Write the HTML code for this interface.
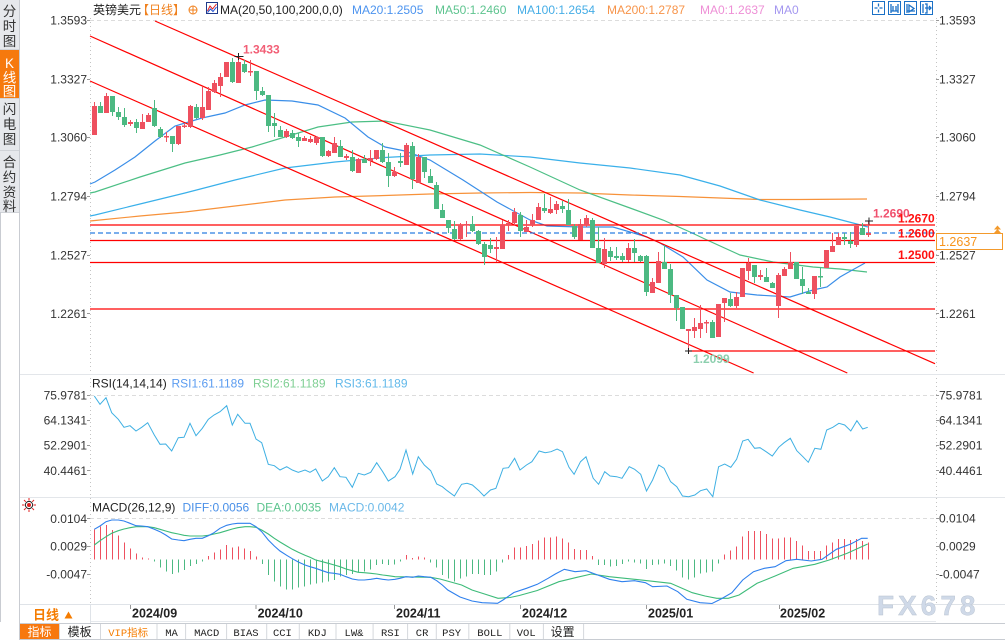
<!DOCTYPE html>
<html><head><meta charset="utf-8">
<style>
html,body{margin:0;padding:0;background:#fff;}
body{width:1005px;height:640px;overflow:hidden;position:relative;}
svg{position:absolute;left:0;top:0;}
text{font-family:"Liberation Sans","Noto Sans CJK SC",sans-serif;}
.ax{font-size:12px;fill:#333;}
.mono{font-family:"Liberation Mono","Noto Sans CJK SC",monospace;font-size:10.5px;fill:#222;}
</style></head><body>
<svg width="1005" height="640" viewBox="0 0 1005 640" xmlns="http://www.w3.org/2000/svg">
<rect x="0" y="0" width="1005" height="640" fill="#fff"/>
<!-- sidebar -->
<rect x="0" y="0" width="19" height="212" fill="#e6e8ec"/>
<rect x="0" y="50" width="19" height="48" fill="#f6790d"/>
<g stroke="#d0d3d8" stroke-width="1">
<line x1="0" y1="49.5" x2="19" y2="49.5"/><line x1="0" y1="98.5" x2="19" y2="98.5"/><line x1="0" y1="150.5" x2="19" y2="150.5"/><line x1="0" y1="212.5" x2="19" y2="212.5"/>
</g>
<line x1="0.5" y1="212" x2="0.5" y2="622" stroke="#c9ccd2"/>
<line x1="19.5" y1="0" x2="19.5" y2="640" stroke="#c9ccd2"/>
<g font-size="13.5" text-anchor="middle" fill="#333">
<text x="9.5" y="16">分</text><text x="9.5" y="31">时</text><text x="9.5" y="46">图</text>
<text x="9.5" y="68" fill="#fff">K</text><text x="9.5" y="82.5" fill="#fff">线</text><text x="9.5" y="96" fill="#fff">图</text>
<text x="9.5" y="114">闪</text><text x="9.5" y="129">电</text><text x="9.5" y="144">图</text>
<text x="9.5" y="167">合</text><text x="9.5" y="182">约</text><text x="9.5" y="197">资</text><text x="9.5" y="211">料</text>
</g>

<!-- header -->
<text x="93" y="14" font-size="12" fill="#222">英镑美元</text>
<text x="137" y="14" font-size="12" fill="#f0811e">【日线】</text>
<circle cx="193" cy="10" r="4" fill="none" stroke="#f0811e"/>
<line x1="189" y1="10" x2="197" y2="10" stroke="#f0811e"/><line x1="193" y1="6" x2="193" y2="14" stroke="#f0811e"/>
<rect x="206.5" y="2.5" width="11" height="11" fill="#fff" stroke="#1f3a8a"/>
<polyline points="207.5,11 210,6 212.5,9 216.5,4" fill="none" stroke="#e02020"/>
<polyline points="207.5,12.5 210.5,9 213,11.5 216.5,7" fill="none" stroke="#2050d0"/>
<text x="220" y="14" font-size="12" fill="#222">MA(20,50,100,200,0,0)</text>
<text x="352" y="14" font-size="12" fill="#4d94ef">MA20:1.2505</text>
<text x="435" y="14" font-size="12" fill="#5ec48f">MA50:1.2460</text>
<text x="517" y="14" font-size="12" fill="#45ade6">MA100:1.2654</text>
<text x="607" y="14" font-size="12" fill="#f7944a">MA200:1.2787</text>
<text x="700" y="14" font-size="12" fill="#ee8fd6">MA0:1.2637</text>
<text x="774" y="14" font-size="12" fill="#a497f0">MA0</text>
<g fill="#fff" stroke="#1a70c6" stroke-width="1">
<rect x="872.5" y="1.5" width="12" height="13"/><rect x="888.5" y="1.5" width="12" height="13"/><rect x="904.5" y="1.5" width="12" height="13"/><rect x="920.5" y="1.5" width="12" height="13"/>
</g>
<g stroke="#1a70c6" stroke-width="1.3" fill="none">
<path d="M878.5 3.5v3M878.5 9.5v3M874.5 8h3M879.5 8h3"/>
<path d="M891 4v9M898 4v9M891 11h7M893 6v5M896 6v5"/>
<path d="M907 4v9M907 11h8M909 5l5 3.5l-5 3.5z"/>
<path d="M923 4v9M925 8h6M929 6l2 2l-2 2M925 4h2v9h-2"/>
</g>

<!-- grids & axes -->
<g stroke="#dcdcdc" stroke-dasharray="4,3">
<line x1="90" y1="20.5" x2="936" y2="20.5"/>
<line x1="90" y1="395.5" x2="936" y2="395.5"/>
<line x1="90" y1="518.5" x2="936" y2="518.5"/>
</g>
<g stroke="#c4c4c4" stroke-dasharray="1,3">
<line x1="90.5" y1="18" x2="90.5" y2="604"/>
<line x1="936.5" y1="18" x2="936.5" y2="604"/>
</g>
<g stroke="#999">
<path d="M87 20.5h3M87 79.5h3M87 137.5h3M87 196.5h3M87 255.5h3M87 313.5h3M87 395.5h3M87 420.5h3M87 445.5h3M87 470.5h3M87 518.5h3M87 546.5h3M87 574.5h3"/>
<path d="M936 20.5h3M936 79.5h3M936 137.5h3M936 196.5h3M936 255.5h3M936 313.5h3M936 395.5h3M936 420.5h3M936 445.5h3M936 470.5h3M936 518.5h3M936 546.5h3M936 574.5h3"/>
</g>
<line x1="20" y1="374.5" x2="1005" y2="374.5" stroke="#e3e6ea"/>
<line x1="20" y1="497.5" x2="1005" y2="497.5" stroke="#e3e6ea"/>

<!-- axis labels -->
<g class="ax" text-anchor="end">
<text x="87" y="24.5">1.3593</text><text x="87" y="83.3">1.3327</text><text x="87" y="141.5">1.3060</text><text x="87" y="200.5">1.2794</text><text x="87" y="259.3">1.2527</text><text x="87" y="318">1.2261</text>
<text x="87" y="399.3">75.9781</text><text x="87" y="424.3">64.1341</text><text x="87" y="449.5">52.2901</text><text x="87" y="474.8">40.4461</text>
<text x="87" y="522.8">0.0104</text><text x="87" y="550.5">0.0029</text><text x="87" y="578.3">-0.0047</text>
</g>
<g class="ax">
<text x="939" y="24.5">1.3593</text><text x="939" y="83.3">1.3327</text><text x="939" y="141.5">1.3060</text><text x="939" y="200.5">1.2794</text><text x="939" y="259.3">1.2527</text><text x="939" y="318">1.2261</text>
<text x="939" y="399.3">75.9781</text><text x="939" y="424.3">64.1341</text><text x="939" y="449.5">52.2901</text><text x="939" y="474.8">40.4461</text>
<text x="939" y="522.5">0.0104</text><text x="939" y="550.7">0.0029</text><text x="939" y="578.3">-0.0047</text>
</g>

<!-- moving averages -->
<g fill="none" stroke-width="1.2">
<polyline stroke="#f7923a" points="90,221 95,220.5 140,216 185,212 235,206 285,200 335,197 385,195.5 430,194 480,193 530,192.5 580,193 630,195 680,196.5 720,198 760,199.5 800,199.5 867,199"/>
<polyline stroke="#3ab0ea" points="90,216 95,215 140,204 185,193 235,180 285,168 335,162 385,157.5 430,155 480,154 530,157 580,163 630,168 680,175 720,186 760,200 800,210 830,217 853,223 868,227"/>
<polyline stroke="#4cbf85" points="90,193 95,192 140,177 185,163 220,155 252,147 285,137 318,127 352,122 385,121 430,130 480,145 530,167 580,190 630,208 663,220 690,232 707,240 740,255 773,262 813,267 840,269 867,272"/>
<polyline stroke="#3a8ee8" points="90,184 95,182 115,170 135,157 155,141 175,126 202,118 225,113 245,105 265,100 292,101 318,105 345,118 368,137 385,147 405,151 430,160 463,180 497,202 530,220 547,226 580,227 613,227 647,237 660,243 683,257 707,280 730,292 757,295 790,297 813,290 827,287 840,277 847,273 865,263"/>
</g>

<!-- level lines -->
<g stroke="#ff0000" stroke-width="1.2">
<line x1="90" y1="225" x2="935" y2="225"/>
<line x1="90" y1="240.5" x2="935" y2="240.5"/>
<line x1="90" y1="262.5" x2="935" y2="262.5"/>
<line x1="90" y1="309" x2="935" y2="309"/>
<line x1="688" y1="351" x2="935" y2="351"/>
<line x1="155" y1="21" x2="935" y2="363.7"/>
<line x1="90" y1="36" x2="847.3" y2="373"/>
<line x1="90" y1="81" x2="753.6" y2="373"/>
</g>
<line x1="90" y1="233" x2="935" y2="233" stroke="#2a7de1" stroke-width="1.2" stroke-dasharray="5,3"/>

<!-- candles -->
<g shape-rendering="crispEdges">
<path fill="none" stroke="#ee505f" stroke-width="1" d="M94.5 102V135M106.5 93V113M130.5 120V126M142.5 114V129M148.5 113V122M166.5 132V142M178.5 126V145M184.5 124V128M190.5 105V128M202.5 87V120M208.5 87V110M214.5 80V93M220.5 73V97M226.5 62V77M238.5 56V83M250.5 60V76M286.5 129V138M304.5 136V141M310.5 136V143M316.5 136V145M328.5 150V157M334.5 137V153M346.5 154V160M358.5 158V173M370.5 150V166M376.5 150V160M394.5 167V177M406.5 143V165M418.5 154V183M460.5 223V240M466.5 221V237M496.5 237V262M502.5 220V249M508.5 220V231M514.5 208V225M526.5 220V232M532.5 214V227M538.5 203V220M550.5 197V214M556.5 201V214M580.5 219V240M586.5 215V227M604.5 238V268M628.5 243V262M652.5 278V293M658.5 252V283M688.5 329V350M694.5 318V338M700.5 305V338M706.5 320V333M718.5 304V337M724.5 298V322M736.5 292V308M742.5 268V297M748.5 258V280M760.5 270V280M778.5 273V318M784.5 267V276M790.5 252V269M814.5 276V299M826.5 250V268M832.5 233V252M838.5 233V245M856.5 226V247M868.5 221V237"/>
<path fill="#ee505f" d="M92 106h5v29h-5zM104 96h5v17h-5zM128 122h5v2h-5zM140 122h5v7h-5zM146 115h5v7h-5zM164 136h5v1.5h-5zM176 126h5v18h-5zM182 125.5h5v1.5h-5zM188 106h5v21h-5zM200 107h5v11h-5zM206 91h5v19h-5zM212 83h5v9h-5zM218 77h5v9h-5zM224 62h5v15h-5zM236 62h5v21h-5zM248 71h5v1.5h-5zM284 131h5v6h-5zM302 138h5v3h-5zM308 139h5v3h-5zM314 137h5v6h-5zM326 151h5v5h-5zM332 143h5v10h-5zM344 156h5v2h-5zM356 159h5v14h-5zM368 158h5v3h-5zM374 150h5v9h-5zM392 172h5v4h-5zM404 145h5v20h-5zM416 157h5v26h-5zM458 225h5v14h-5zM464 224h5v1.5h-5zM494 247h5v2h-5zM500 225h5v24h-5zM506 223h5v2h-5zM512 212h5v11h-5zM524 227h5v5h-5zM530 220h5v5h-5zM536 207h5v13h-5zM548 209h5v4h-5zM554 204h5v6h-5zM578 224h5v16h-5zM584 218h5v7h-5zM602 249h5v15h-5zM626 248h5v12h-5zM650 282h5v11h-5zM656 261h5v22h-5zM686 329h5v2h-5zM692 327h5v4h-5zM698 323h5v6h-5zM704 322h5v1.5h-5zM716 304h5v33h-5zM722 298h5v5h-5zM734 297h5v9h-5zM740 268h5v29h-5zM746 263h5v8h-5zM758 275h5v2h-5zM776 275h5v31h-5zM782 269h5v7h-5zM788 262h5v7h-5zM812 276h5v18h-5zM824 250h5v18h-5zM830 246h5v6h-5zM836 237h5v8h-5zM854 226h5v19h-5zM866 233h5v2h-5z"/>
<path fill="none" stroke="#4cb982" stroke-width="1" d="M100.5 102V113M112.5 96V116M118.5 107V120M124.5 108V127M136.5 119V133M154.5 100V127M160.5 127V138M172.5 136V152M196.5 104V119M232.5 58V83M244.5 60V73M256.5 71V100M262.5 87V96M268.5 95V132M274.5 113V137M280.5 126V137M292.5 130V139M298.5 133V147M322.5 137V157M340.5 140V157M352.5 150V172M364.5 155V163M382.5 143V163M388.5 153V187M400.5 153V167M412.5 142V189M424.5 157V178M430.5 169V183M436.5 182V209M442.5 204V218M448.5 220V233M454.5 221V240M472.5 216V232M478.5 230V245M484.5 242V265M490.5 238V253M520.5 212V237M544.5 194V213M562.5 201V213M568.5 199V225M574.5 224V239M592.5 218V248M598.5 227V263M610.5 247V261M616.5 247V260M622.5 253V262M634.5 239V262M640.5 255V262M646.5 255V296M664.5 245V269M670.5 264V303M676.5 295V321M682.5 307V329M712.5 320V338M730.5 293V307M754.5 265V283M766.5 268V282M772.5 282V288M796.5 262V279M802.5 267V294M808.5 288V294M820.5 267V287M844.5 233V245M850.5 232V248M862.5 223V235"/>
<path fill="#4cb982" d="M98 106h5v7h-5zM110 96h5v16h-5zM116 112h5v5h-5zM122 117h5v8h-5zM134 122h5v6h-5zM152 108h5v18h-5zM158 129h5v8h-5zM170 136h5v8h-5zM194 107h5v11h-5zM230 62h5v20h-5zM242 64h5v8h-5zM254 71h5v20h-5zM260 91h5v4h-5zM266 95h5v31h-5zM272 123h5v3h-5zM278 130h5v7h-5zM290 133h5v5h-5zM296 137h5v4h-5zM320 137h5v19h-5zM338 146h5v11h-5zM350 157h5v14h-5zM362 159h5v4h-5zM380 150h5v12h-5zM386 162h5v14h-5zM398 161h5v2h-5zM410 146h5v33h-5zM422 157h5v15h-5zM428 176h5v7h-5zM434 185h5v24h-5zM440 210h5v8h-5zM446 220h5v8h-5zM452 229h5v10h-5zM470 224h5v7h-5zM476 231h5v13h-5zM482 244h5v13h-5zM488 245h5v4h-5zM518 215h5v16h-5zM542 208h5v3h-5zM560 206h5v3h-5zM566 210h5v15h-5zM572 226h5v11h-5zM590 220h5v28h-5zM596 248h5v15h-5zM608 251h5v6h-5zM614 256h5v2h-5zM620 256h5v4h-5zM632 248h5v5h-5zM638 256h5v5h-5zM644 256h5v36h-5zM662 262h5v7h-5zM668 269h5v26h-5zM674 295h5v13h-5zM680 307h5v22h-5zM710 322h5v16h-5zM728 299h5v7h-5zM752 265h5v12h-5zM764 277h5v5h-5zM770 283h5v5h-5zM794 262h5v17h-5zM800 279h5v7h-5zM806 292h5v2h-5zM818 276h5v1.5h-5zM842 237h5v2h-5zM848 241h5v3h-5zM860 228h5v7h-5z"/>
</g>

<!-- crosshair markers -->
<g stroke="#222" stroke-width="1">
<path d="M234.5 56.5h9M238.5 53v7"/>
<path d="M685 351h7M688.5 348v6"/>
<path d="M865 221h8M869 217.5v7"/>
</g>

<!-- price labels -->
<text x="243" y="53.5" font-size="12" font-weight="bold" fill="#f25f76">1.3433</text>
<text x="693" y="363" font-size="12" font-weight="bold" fill="#8ccfae">1.2099</text>
<text x="873" y="217.5" font-size="12" font-weight="bold" fill="#f0506e">1.2690</text>
<text x="898" y="222.5" font-size="12" font-weight="bold" fill="#ff1010">1.2670</text>
<text x="898" y="237.5" font-size="12" font-weight="bold" fill="#ff1010">1.2600</text>
<text x="898" y="259" font-size="12" font-weight="bold" fill="#ff1010">1.2500</text>
<rect x="936.5" y="233.5" width="66" height="16" fill="#fff" stroke="#f39a2c"/>
<text x="939" y="246" font-size="12.5" fill="#f7941d">1.2637</text>
<path d="M994 229.5l3.5-4l3.5 4zM994 233l3.5-4l3.5 4z" fill="#f39a2c"/>

<!-- RSI -->
<text x="92" y="387.5" font-size="12" fill="#222">RSI(14,14,14)</text>
<text x="171.5" y="387.5" font-size="12" fill="#5b9cf0">RSI1:61.1189</text>
<text x="253" y="387.5" font-size="12" fill="#7fcf93">RSI2:61.1189</text>
<text x="335" y="387.5" font-size="12" fill="#62b9ea">RSI3:61.1189</text>
<polyline fill="none" stroke="#3fb0e3" stroke-width="1" points="94.3,396 100,404.3 106,397.7 111.7,412.7 118.3,419.3 124,427.3 130,425.7 136,431 141.7,427.3 147.7,422.7 154.3,435 160,444.3 165.7,444 171.7,451 178.3,437.7 184,437.3 190,423.3 196,435.7 202.3,428.3 208.3,419.3 214,415 220,411.7 226.7,405.7 232.3,425 237.7,414.3 245,423.3 250,423.3 256,439 261.7,442.7 268.3,464.3 274.3,465.7 280,470 286.7,466.7 292.3,470 298.3,472.3 305,470 310,472.3 315.7,469 322.3,481 328.3,476.7 334.3,467.7 340,476.7 346,477.3 352.3,487.3 358.3,473.3 364.3,475 370.7,472.3 376.7,462.7 382.7,471.7 388.3,481 395,476.7 400,469.3 406,450 412.7,474 418.3,456.7 424.3,465 430.7,470.7 436.7,484 442.3,486.7 447.2,490.7 454.4,496 461.6,484.3 467,483.3 472.4,485 478.9,490.7 484,496 490.5,490 495.9,488.3 503.1,468.3 508.5,467.7 514.6,458.3 520,470 526.5,465 531.9,461.7 539.1,451 545.2,452.7 551,451.7 557.1,449 562.5,451.7 569,467.3 574.1,474.3 580.5,461.7 586,456.7 593.2,478.3 598.6,484.3 604.7,471.7 610.1,476 616.6,476.7 622,478.3 629.2,466.7 634.6,469.3 640.7,474.3 646.5,491 652.6,480 658.7,465 664.1,468.3 670.6,481.7 676.8,486.7 682.5,496 688.6,496.7 694.8,495 700.5,490.7 706.7,489 712.8,496.7 718.6,466.7 724.7,464 730.8,467.3 736.6,459.3 742.7,441 748.1,439.3 754.6,448.3 760,447.7 766.1,451.7 772.3,456 778.7,447.3 784.1,442.7 790.3,438.3 796.8,450.7 802.9,456.7 808.3,462.3 814.8,448.3 820.9,449.3 826.7,430 832.8,427.3 838.9,423.3 844.7,425 850.8,431 856.9,420.7 862.7,429 867.7,427.3"/>

<!-- MACD -->
<g transform="translate(29,505)">
<g stroke="#e02020" stroke-width="1"><path d="M0 -7v2.5M0 4.5v2.5M-7 0h2.5M4.5 0h2.5M-5 -5l1.8 1.8M3.2 3.2l1.8 1.8M5 -5l-1.8 1.8M-3.2 3.2l-1.8 1.8"/></g>
<circle r="3.6" fill="none" stroke="#222"/><circle r="2" fill="#e02020"/>
</g>
<text x="92" y="511.5" font-size="12" fill="#222">MACD(26,12,9)</text>
<text x="182.5" y="511.5" font-size="12" fill="#4a90e8">DIFF:0.0056</text>
<text x="256.5" y="511.5" font-size="12" fill="#5cc48e">DEA:0.0035</text>
<text x="329" y="511.5" font-size="12" fill="#6ab8e8">MACD:0.0042</text>
<g shape-rendering="crispEdges" stroke-width="1" fill="none">
<path stroke="#ee505f" d="M94.5 559.5V529.3M100.5 559.5V526.7M106.5 559.5V525M112.5 559.5V530M118.5 559.5V535.7M124.5 559.5V542.7M130.5 559.5V548.3M136.5 559.5V553.3M142.5 559.5V557.3M148.5 559.5V558.3M208.5 559.5V556M214.5 559.5V552.7M220.5 559.5V549.3M226.5 559.5V545M232.5 559.5V547.3M238.5 559.5V546.7M244.5 559.5V548.3M250.5 559.5V551M256.5 559.5V556.7M406.5 559.5V555M412.5 559.5V558M418.5 559.5V556.7M424.5 559.5V557.3M508.5 559.5V555M514.5 559.5V547.7M520.5 559.5V547.7M526.5 559.5V546M532.5 559.5V544M538.5 559.5V540.7M544.5 559.5V537.7M550.5 559.5V537.3M556.5 559.5V536.7M562.5 559.5V538.3M568.5 559.5V542.7M574.5 559.5V549M580.5 559.5V550M586.5 559.5V550M592.5 559.5V556M724.5 559.5V554.3M730.5 559.5V550.3M736.5 559.5V546.7M742.5 559.5V536.7M748.5 559.5V531M754.5 559.5V531M760.5 559.5V531M766.5 559.5V534M772.5 559.5V538.3M778.5 559.5V538.3M784.5 559.5V537.3M790.5 559.5V537.3M796.5 559.5V541M802.5 559.5V545.7M808.5 559.5V551M814.5 559.5V551M820.5 559.5V551M826.5 559.5V545.7M832.5 559.5V542.3M838.5 559.5V539M844.5 559.5V539M850.5 559.5V540M856.5 559.5V539M862.5 559.5V541M868.5 559.5V542.7"/>
<path stroke="#4cb982" d="M154.5 559.5V561.7M160.5 559.5V567.3M166.5 559.5V571.7M172.5 559.5V574M178.5 559.5V572.7M184.5 559.5V570M190.5 559.5V566M196.5 559.5V564M202.5 559.5V561.7M262.5 559.5V564M268.5 559.5V575M274.5 559.5V581.7M280.5 559.5V586.7M286.5 559.5V589.3M292.5 559.5V589.3M298.5 559.5V587.3M304.5 559.5V586.7M310.5 559.5V584.3M316.5 559.5V583.3M322.5 559.5V582.3M328.5 559.5V581.7M334.5 559.5V580M340.5 559.5V576.7M346.5 559.5V575M352.5 559.5V574M358.5 559.5V572.7M364.5 559.5V571.7M370.5 559.5V569.3M376.5 559.5V565M382.5 559.5V564M388.5 559.5V565M394.5 559.5V564.3M400.5 559.5V561.7M430.5 559.5V562.7M436.5 559.5V567.3M442.5 559.5V575M448.5 559.5V578.3M454.5 559.5V581.7M460.5 559.5V578.3M466.5 559.5V576.7M472.5 559.5V574M478.5 559.5V574M484.5 559.5V575M490.5 559.5V575M496.5 559.5V571.7M502.5 559.5V562.7M598.5 559.5V565M604.5 559.5V565M610.5 559.5V566.7M616.5 559.5V566M622.5 559.5V564M628.5 559.5V561.7M634.5 559.5V562.7M640.5 559.5V563.3M646.5 559.5V569M652.5 559.5V565M658.5 559.5V564.3M664.5 559.5V563.3M670.5 559.5V566M676.5 559.5V570.7M682.5 559.5V577.3M688.5 559.5V579.3M694.5 559.5V577.3M700.5 559.5V573.3M706.5 559.5V572.7M712.5 559.5V571.7M718.5 559.5V563.3"/>
</g>
<polyline fill="none" stroke="#3dbb79" stroke-width="1.1" points="94.3,545 100,540.7 106,536.7 111.7,533.3 118.3,530.7 124,529 130,527.7 136,526.7 147.7,526.7 154.3,527.7 160,529.3 165.7,531 171.7,532.7 178.3,534 184,535.3 190,536 202.3,536 208.3,535.3 214,534 220,532.7 226.7,530.7 232.3,529 237.7,527.7 245,526.7 250,526.7 256,527.3 261.7,530 268.3,534 274.3,538.3 280,542 286.7,546 292.3,549.3 298.3,552.3 305,555.3 310,557.3 315.7,560 322.3,561.7 328.3,563.3 334.3,565 340,566.7 346,569 352.3,570.7 358.3,572.3 364.3,572.7 370.7,573.3 376.7,574 382.7,575 388.3,575.7 395,576.7 430.7,577.3 440,579 461.6,585 472,590 483,593.5 498,598.3 510,597.5 519.3,595.5 537.3,590.5 558.9,581.7 577,577.3 591.4,574 609.4,576.7 634.6,579.3 656.2,581.7 670.6,583.3 692.3,592.7 705,596 716.7,598.3 728.3,598.3 739.1,595 757.1,583.3 775.1,576 793.2,568.3 814.8,564.3 829.2,560 847.2,553.3 867.7,544"/>
<polyline fill="none" stroke="#2f80ed" stroke-width="1.1" points="94.3,529.3 100,526 106,521.7 111.7,520 118.3,520 124,521 130,523.3 136,525.7 141.7,526 147.7,526.7 154.3,529.3 160,531.7 165.7,535 171.7,539 178.3,540 184,540.7 190,539.3 196,538.3 202.3,538.3 208.3,535.7 214,532.7 220,528.3 226.7,525.3 232.3,524 237.7,523.3 245,523.3 250,523.3 256,526.7 261.7,531.7 268.3,540 274.3,546 280,551 286.7,555.3 292.3,558.7 298.3,562 305,565 310,566.7 315.7,568.3 322.3,570.7 328.3,572.7 334.3,573.3 340,574.3 346,576.7 352.3,579 358.3,580 364.3,580 370.7,579.3 376.7,578.3 382.7,579.3 388.3,580 395,579.3 400,578.3 406,576.7 412.7,577.3 418.3,576 424.3,576.7 430.7,577.3 436.7,580.7 442.3,585 447.8,590 460,597 472,601 482.2,602.7 497.5,603.3 503,600 513.9,592.5 526.5,588.3 537.3,584.3 548.1,578.3 555.3,574 564.3,569.3 575.1,571.7 586,570.7 595,574 609.4,579.3 622,581.7 634.6,580.7 645.4,582.7 652.6,586.7 667,586 677.8,591.7 686.8,599.3 700,602.7 712,603.5 721,599 731.9,592.7 742.7,580 753.5,571.7 764.3,568.3 775.1,566.7 786,560.7 796.8,559.3 811.2,561 822,559.3 836.4,549.3 850.8,544 861.6,538.3 867.7,538.3"/>

<!-- date axis -->
<rect x="20" y="604" width="985" height="19" fill="#fff"/>
<line x1="20" y1="604.5" x2="1005" y2="604.5" stroke="#dfe3e8"/>
<line x1="90" y1="621.5" x2="936" y2="621.5" stroke="#e6e9ed"/>
<line x1="90.5" y1="604" x2="90.5" y2="623" stroke="#dfe3e8"/>
<g stroke="#999"><path d="M130.5 605v4M256 605v4M394.5 605v4M520.5 605v4M646.5 605v4M779.5 605v4"/></g>
<text x="33" y="619.5" font-size="13" font-weight="bold" fill="#f57c00">日线</text>
<path d="M64.5 618.5l4-7l4 7z" fill="#f57c00"/>
<g font-size="12.5" font-weight="bold" fill="#222">
<text x="132" y="617.5">2024/09</text><text x="257.6" y="617.5">2024/10</text><text x="396" y="617.5">2024/11</text><text x="522" y="617.5">2024/12</text><text x="648" y="617.5">2025/01</text><text x="780" y="617.5">2025/02</text>
</g>
<text x="877" y="615" font-size="28" font-weight="bold" letter-spacing="4" fill="#cfd9e8" stroke="#b8c2cf" stroke-width="0.4">FX678</text>

<!-- toolbar -->
<rect x="20" y="623" width="985" height="17" fill="#fff"/>
<line x1="20" y1="623.5" x2="1005" y2="623.5" stroke="#c8ccd2"/>
<line x1="20" y1="639.5" x2="1005" y2="639.5" stroke="#c8ccd2"/>
<rect x="20" y="624" width="39.3" height="15" fill="#f7780f"/>
<g stroke="#d5d8dd"><path d="M59.5 624v15M100.5 624v15M157 624v15M185.6 624v15M226.6 624v15M266.7 624v15M299.3 624v15M336 624v15M373.1 624v15M407.6 624v15M436.3 624v15M468.8 624v15M509.8 624v15M543.4 624v15M583.6 624v15"/></g>
<g text-anchor="middle">
<text x="39.5" y="636" font-size="12" fill="#fff">指标</text>
<text x="79.6" y="636" font-size="12" fill="#222">模板</text>
<text x="128.2" y="636" class="mono" style="fill:#f57c00">VIP指标</text>
<text x="171.5" y="636" class="mono">MA</text>
<text x="206.7" y="636" class="mono">MACD</text>
<text x="246" y="636" class="mono">BIAS</text>
<text x="282.4" y="636" class="mono">CCI</text>
<text x="317.3" y="636" class="mono">KDJ</text>
<text x="354" y="636" class="mono">LW&amp;</text>
<text x="390.4" y="636" class="mono">RSI</text>
<text x="422.1" y="636" class="mono">CR</text>
<text x="451.6" y="636" class="mono">PSY</text>
<text x="489.9" y="636" class="mono">BOLL</text>
<text x="526.2" y="636" class="mono">VOL</text>
<text x="562.6" y="636" font-size="12" fill="#222">设置</text>
</g>
</svg>
</body></html>
